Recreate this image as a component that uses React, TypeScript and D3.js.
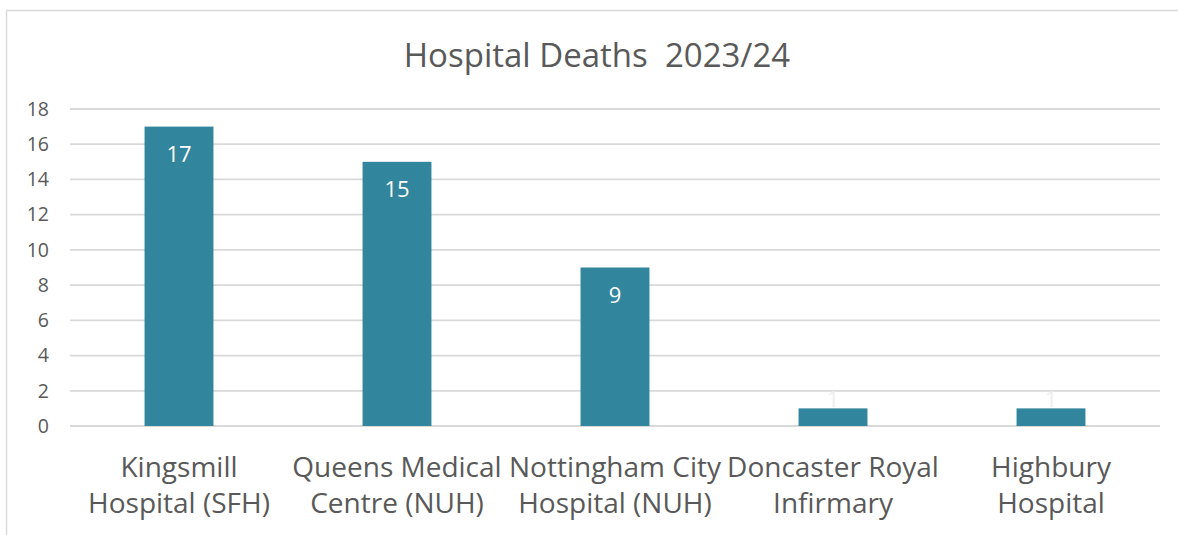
import React from 'react';
import * as d3 from 'd3';

const categories: string[][] = [
  ['Kingsmill', 'Hospital (SFH)'],
  ['Queens Medical', 'Centre (NUH)'],
  ['Nottingham City', 'Hospital (NUH)'],
  ['Doncaster Royal', 'Infirmary'],
  ['Highbury', 'Hospital'],
];
const deaths: number[] = [17, 15, 9, 1, 1];
const yTicks: number[] = [0, 2, 4, 6, 8, 10, 12, 14, 16, 18];
const title = 'Hospital Deaths  2023/24';

const WIDTH = 1178;
const HEIGHT = 535;
const margin = { top: 109, right: 18, bottom: 109, left: 70 };
const FONT = '"Open Sans", "Noto Sans", sans-serif';
const TEXT = '#595959';
const BAR = '#31859c';
const GRID = '#d9d9d9';

const App: React.FC = () => {
  const innerW = WIDTH - margin.left - margin.right;
  const innerH = HEIGHT - margin.top - margin.bottom;

  const x = d3
    .scaleBand<number>()
    .domain(d3.range(categories.length))
    .range([margin.left, margin.left + innerW])
    .padding(0);

  const y = d3
    .scaleLinear()
    .domain([0, 18])
    .range([margin.top + innerH, margin.top]);

  // bar takes about a third of each category slot
  const barW = x.bandwidth() * 0.316;

  return (
    <svg
      width={WIDTH}
      height={HEIGHT}
      style={{ position: 'absolute', left: 0, top: 0, background: '#fff' }}
      fontFamily={FONT}
    >
      {/* chart frame */}
      <rect x={6.5} y={10.5} width={WIDTH + 20} height={HEIGHT + 20} fill="#fff" stroke={GRID} strokeWidth={1.5} />

      <text x={597} y={67} textAnchor="middle" fontSize={33} fill={TEXT} style={{ whiteSpace: 'pre' }}>
        {title}
      </text>

      {/* gridlines + y labels */}
      {yTicks.map((t) => (
        <g key={t}>
          <line x1={margin.left} x2={margin.left + innerW} y1={y(t)} y2={y(t)} stroke={GRID} strokeWidth={1.8} />
          <text x={49} y={y(t)} dy="0.35em" textAnchor="end" fontSize={19.5} fill={TEXT}>
            {t}
          </text>
        </g>
      ))}

      {/* bars */}
      {deaths.map((d, i) => {
        const cx = (x(i) as number) + x.bandwidth() / 2;
        const top = y(d);
        const h = y(0) - top;
        const inside = h > 40;
        return (
          <g key={i}>
            <rect x={cx - barW / 2} y={top} width={barW} height={h} fill={BAR} />
            <text
              x={cx}
              y={inside ? top + 35 : top - 1}
              textAnchor="middle"
              fontSize={22}
              fill={inside ? '#ffffff' : '#eeeeee'}
            >
              {d}
            </text>
          </g>
        );
      })}

      {/* category labels */}
      {categories.map((lines, i) => {
        const cx = (x(i) as number) + x.bandwidth() / 2;
        return (
          <text key={i} x={cx} textAnchor="middle" fontSize={28} fill={TEXT}>
            {lines.map((l, j) => (
              <tspan key={j} x={cx} y={477 + j * 36}>
                {l}
              </tspan>
            ))}
          </text>
        );
      })}
    </svg>
  );
};

export default App;
